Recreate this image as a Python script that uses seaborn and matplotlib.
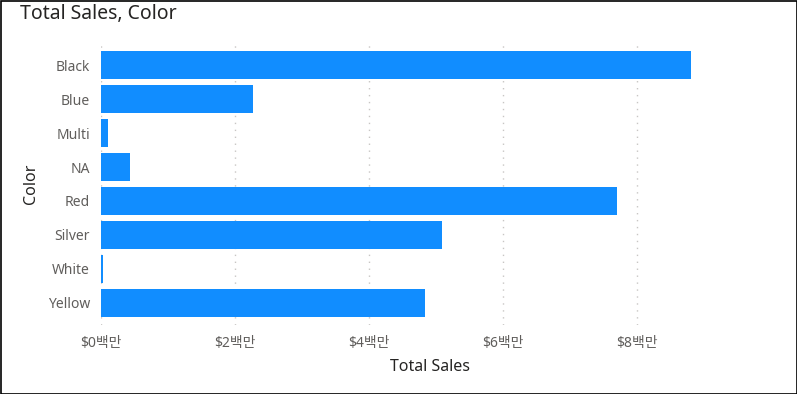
import matplotlib
matplotlib.use("Agg")
import matplotlib.pyplot as plt
import seaborn as sns
import pandas as pd
from matplotlib.ticker import FuncFormatter, MultipleLocator

colors = ["Black", "Blue", "Multi", "NA", "Red", "Silver", "White", "Yellow"]
sales_millions = [8.81, 2.27, 0.10, 0.43, 7.70, 5.09, 0.025, 4.84]

df = pd.DataFrame({"Color": colors, "Total Sales": sales_millions})

sns.set_theme(style="white")
plt.rcParams['font.family'] = ['Noto Sans', 'Noto Sans CJK KR', 'DejaVu Sans']

fig = plt.figure(figsize=(7.97, 3.94), dpi=100)
ax = fig.add_axes([101/797, 1-325/394, (760-101)/797, (325-43)/394])

sns.barplot(data=df, y="Color", x="Total Sales", order=colors, color="#118DFF",
            saturation=1, width=0.8, ax=ax, zorder=3, linewidth=0)

ax.set_xlim(0, 9.84)
ax.set_ylim(7.65, -0.65)
ax.xaxis.set_major_locator(MultipleLocator(2))
ax.xaxis.set_major_formatter(FuncFormatter(lambda v, p: f"${v:.0f}백만"))
ax.grid(axis="x", color="#C8C6C4", linestyle=(0, (1, 4)), linewidth=1, zorder=0)
ax.grid(axis="y", visible=False)
for s in ax.spines.values():
    s.set_visible(False)
ax.tick_params(axis="both", length=0, labelsize=10, colors="#605E5C")
ax.tick_params(axis="y", pad=8)
ax.tick_params(axis="x", pad=8)
ax.set_xlabel("Total Sales", fontsize=11.5, color="#252423", labelpad=6)
ax.set_ylabel("Color", fontsize=11.5, color="#252423", labelpad=6)

fig.text(20/797, 1-14/394, "Total Sales, Color", fontsize=14, color="#252423",
         ha="left", va="center")

border = plt.Rectangle((0.5/797, 0.5/394), 1-1/797, 1-1/394, transform=fig.transFigure,
                       fill=False, edgecolor="black", linewidth=1.2)
fig.patches.append(border)

fig.savefig("out.png", dpi=100)
